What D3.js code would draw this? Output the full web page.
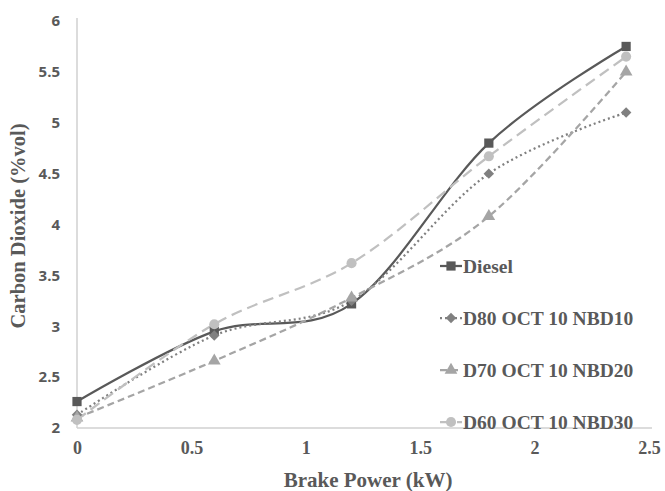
<!DOCTYPE html>
<html>
<head>
<meta charset="utf-8">
<script src="https://cdn.jsdelivr.net/npm/d3@7"></script>
<style>
  body { margin: 0; background: #fff; }
  svg { display: block; }
</style>
</head>
<body>
<div id="chart"></div>
<script>
// chart values
var power = [0, 0.6, 1.2, 1.8, 2.4];
var diesel = [2.26, 2.95, 3.22, 4.80, 5.75];
var d80 = [2.13, 2.91, 3.25, 4.50, 5.10];
var d70 = [2.10, 2.66, 3.28, 4.08, 5.50];
var d60 = [2.08, 3.02, 3.62, 4.67, 5.65];
var seriesNames = ["Diesel", "D80 OCT 10 NBD10", "D70 OCT 10 NBD20", "D60 OCT 10 NBD30"];
var xTicks = [0, 0.5, 1, 1.5, 2, 2.5];
var yTicks = [2, 2.5, 3, 3.5, 4, 4.5, 5, 5.5, 6];

var W = 665, H = 491;
var margin = {top: 21, right: 16, bottom: 63, left: 77};
var width = W - margin.left - margin.right,
    height = H - margin.top - margin.bottom;

var svg = d3.select("#chart").append("svg")
    .attr("width", W)
    .attr("height", H)
  .append("g")
    .attr("transform", "translate(" + margin.left + "," + margin.top + ")");

var x = d3.scaleLinear().domain([0, 2.5]).range([0, width]);
var y = d3.scaleLinear().domain([2, 6]).range([height, 0]);

// styles per series (diamond = square turned 45deg)
var styles = [
  {data: diesel, color: "#595959", dash: null, symbol: d3.symbolSquare, size: 85, rot: 0},
  {data: d80, color: "#808080", dash: "2,3", symbol: d3.symbolSquare, size: 55, rot: 45},
  {data: d70, color: "#a5a5a5", dash: "7,4", symbol: d3.symbolTriangle, size: 70, rot: 0},
  {data: d60, color: "#c0c0c0", dash: "11,6", symbol: d3.symbolCircle, size: 80, rot: 0}
];

// axes
var xAxis = svg.append("g")
    .attr("transform", "translate(0," + height + ")")
    .call(d3.axisBottom(x).tickValues(xTicks).tickSize(0).tickPadding(13).tickFormat(d3.format("")));
xAxis.select(".domain").attr("stroke", "#d0d0d0").attr("stroke-width", 1.5).attr("d", "M0,0H" + (width + 3));
xAxis.selectAll("text")
    .style("font-family", "'Liberation Serif', serif")
    .style("font-weight", "bold")
    .style("font-size", "18px")
    .attr("fill", "#595959");

var yAxis = svg.append("g")
    .call(d3.axisLeft(y).tickValues(yTicks).tickSize(0).tickPadding(17).tickFormat(d3.format("")));
yAxis.select(".domain").attr("stroke", "#d0d0d0").attr("stroke-width", 1.5).attr("d", "M0," + height + "V-3");
yAxis.selectAll("text")
    .style("font-family", "'Open Sans', sans-serif")
    .style("font-weight", "bold")
    .style("font-size", "15px")
    .attr("fill", "#595959");

// lines
var line = d3.line()
    .x(function(d, i) { return x(power[i]); })
    .y(function(d) { return y(d); })
    .curve(d3.curveCardinal.tension(0));

styles.forEach(function(s) {
  svg.append("path")
      .datum(s.data)
      .attr("fill", "none")
      .attr("stroke", s.color)
      .attr("stroke-width", 2.25)
      .attr("stroke-dasharray", s.dash)
      .attr("d", line);
});

styles.forEach(function(s) {
  svg.selectAll(null)
      .data(s.data)
      .enter().append("path")
        .attr("d", d3.symbol().type(s.symbol).size(s.size))
        .attr("fill", s.color)
        .attr("transform", function(d, i) {
          return "translate(" + x(power[i]) + "," + y(d) + ") rotate(" + s.rot + ")";
        });
});

// legend
var legend = svg.append("g")
    .attr("transform", "translate(" + (440 - margin.left) + "," + (266 - margin.top) + ")");

styles.forEach(function(s, i) {
  var g = legend.append("g").attr("transform", "translate(0," + (i * 52) + ")");
  g.append("line")
      .attr("x1", 0).attr("x2", 22).attr("y1", 0).attr("y2", 0)
      .attr("stroke", s.color)
      .attr("stroke-width", 2.25)
      .attr("stroke-dasharray", s.dash);
  g.append("path")
      .attr("d", d3.symbol().type(s.symbol).size(s.size))
      .attr("fill", s.color)
      .attr("transform", "translate(11,0) rotate(" + s.rot + ")");
  g.append("text")
      .attr("x", 23)
      .attr("y", 0)
      .attr("dy", "0.35em")
      .style("font-family", "'Liberation Serif', serif")
      .style("font-weight", "bold")
      .style("font-size", "19.5px")
      .attr("fill", "#595959")
      .text(seriesNames[i]);
});

// axis titles
svg.append("text")
    .attr("x", width / 2 + 5)
    .attr("y", height + 59)
    .style("text-anchor", "middle")
    .style("font-family", "'Liberation Serif', serif")
    .style("font-weight", "bold")
    .style("font-size", "21px")
    .attr("fill", "#595959")
    .text("Brake Power (kW)");

svg.append("text")
    .attr("transform", "rotate(-90)")
    .attr("x", 0 - (226 - margin.top))
    .attr("y", 0 - margin.left + 25)
    .style("text-anchor", "middle")
    .style("font-family", "'Liberation Serif', serif")
    .style("font-weight", "bold")
    .style("font-size", "20.5px")
    .attr("fill", "#595959")
    .text("Carbon Dioxide (%vol)");
</script>
</body>
</html>
